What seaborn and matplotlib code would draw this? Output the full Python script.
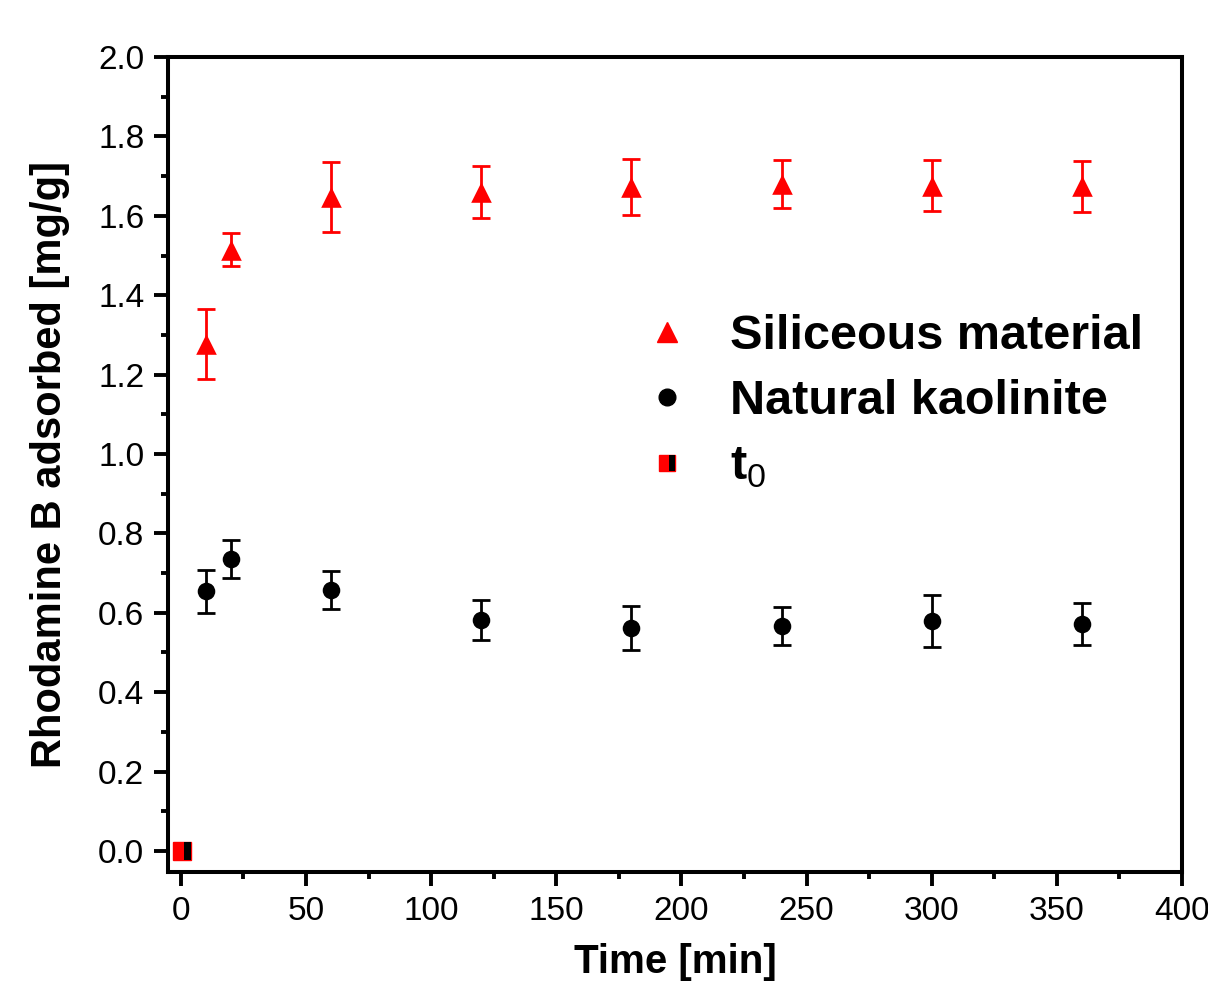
import numpy as np
import pandas as pd
import seaborn as sns
import matplotlib.pyplot as plt
from matplotlib.lines import Line2D
from matplotlib.path import Path
from matplotlib.ticker import MultipleLocator

# data
time = [10, 20, 60, 120, 180, 240, 300, 360]
siliceous = [1.277, 1.515, 1.648, 1.660, 1.673, 1.680, 1.676, 1.674]
siliceous_err = [0.088, 0.042, 0.088, 0.065, 0.070, 0.060, 0.065, 0.064]
kaolinite = [0.654, 0.736, 0.657, 0.582, 0.561, 0.567, 0.580, 0.572]
kaolinite_err = [0.054, 0.048, 0.047, 0.050, 0.055, 0.048, 0.065, 0.052]
t0_time = [0.5]
t0_value = [0.0]

sns.set_style("white")
plt.rcParams['font.family'] = ['Liberation Sans', 'DejaVu Sans']
plt.rcParams['text.color'] = 'black'
plt.rcParams['axes.labelcolor'] = 'black'
plt.rcParams['xtick.color'] = 'black'
plt.rcParams['ytick.color'] = 'black'
plt.rcParams['mathtext.fontset'] = 'custom'
plt.rcParams['mathtext.rm'] = 'Liberation Sans'
plt.rcParams['mathtext.bf'] = 'Liberation Sans:bold'

df = pd.DataFrame({
    'time': time * 2,
    'value': siliceous + kaolinite,
    'err': siliceous_err + kaolinite_err,
    'series': ['Siliceous material'] * len(time) + ['Natural kaolinite'] * len(time),
})

fig = plt.figure(figsize=(12.08, 9.92), dpi=100)
ax = fig.add_axes([0.139, 0.121, 0.8395, 0.8215])

colors = {'Siliceous material': 'red', 'Natural kaolinite': 'black'}
markers = {'Siliceous material': '^', 'Natural kaolinite': 'o'}
sizes = {'Siliceous material': 220, 'Natural kaolinite': 160}

for name, sub in df.groupby('series'):
    ax.errorbar(sub['time'], sub['value'], yerr=sub['err'], fmt='none',
                ecolor=colors[name], elinewidth=2.0, capsize=6.5, capthick=2.0, zorder=2)
    sns.scatterplot(data=sub, x='time', y='value', marker=markers[name],
                    color=colors[name], s=sizes[name], edgecolor=colors[name],
                    linewidth=0, ax=ax, zorder=3, legend=False)

# t0 marker: red square with a black bar on its right side
bar = Path([(0.1, -0.42), (0.42, -0.42), (0.42, 0.42), (0.1, 0.42), (0.1, -0.42)],
           [Path.MOVETO, Path.LINETO, Path.LINETO, Path.LINETO, Path.CLOSEPOLY])
ax.plot(t0_time, t0_value, ls='none', marker='s', ms=13, mfc='red', mec='red', zorder=4)
ax.plot(t0_time, t0_value, ls='none', marker=bar, ms=13, mfc='black', mec='black', mew=0, zorder=5)

ax.set_xlim(-5.2, 400)
ax.set_ylim(-0.053, 2.0)
ax.xaxis.set_major_locator(MultipleLocator(50))
ax.xaxis.set_minor_locator(MultipleLocator(25))
ax.yaxis.set_major_locator(MultipleLocator(0.2))
ax.yaxis.set_minor_locator(MultipleLocator(0.1))
ax.yaxis.set_major_formatter(plt.FormatStrFormatter('%.1f'))

ax.tick_params(which='major', direction='out', length=10, width=2.8, labelsize=24,
               bottom=True, left=True, top=False, right=False, pad=7)
ax.tick_params(which='minor', direction='out', length=5, width=2.8,
               bottom=True, left=True, top=False, right=False)
for s in ax.spines.values():
    s.set_linewidth(2.9)
    s.set_color('black')

ax.set_xlabel('Time [min]', fontsize=29, fontweight='bold', labelpad=12)
ax.set_ylabel('Rhodamine B adsorbed [mg/g]', fontsize=30, fontweight='bold', labelpad=20)

handles = [
    Line2D([], [], ls='none', marker='^', color='red', ms=14),
    Line2D([], [], ls='none', marker='o', color='black', ms=12),
    (Line2D([], [], ls='none', marker='s', mfc='red', mec='red', ms=12),
     Line2D([], [], ls='none', marker=bar, mfc='black', mec='black', mew=0, ms=12)),
]
labels = ['Siliceous material', 'Natural kaolinite', r'$\mathbf{t}_{0}$']
leg = ax.legend(handles, labels, loc='center left', bbox_to_anchor=(0.468, 0.577),
                frameon=False, handletextpad=0.8, labelspacing=0.42,
                borderpad=0, borderaxespad=0,
                prop={'size': 35, 'weight': 'bold'}, handlelength=1.0)

fig.savefig('out.png', dpi=100)
